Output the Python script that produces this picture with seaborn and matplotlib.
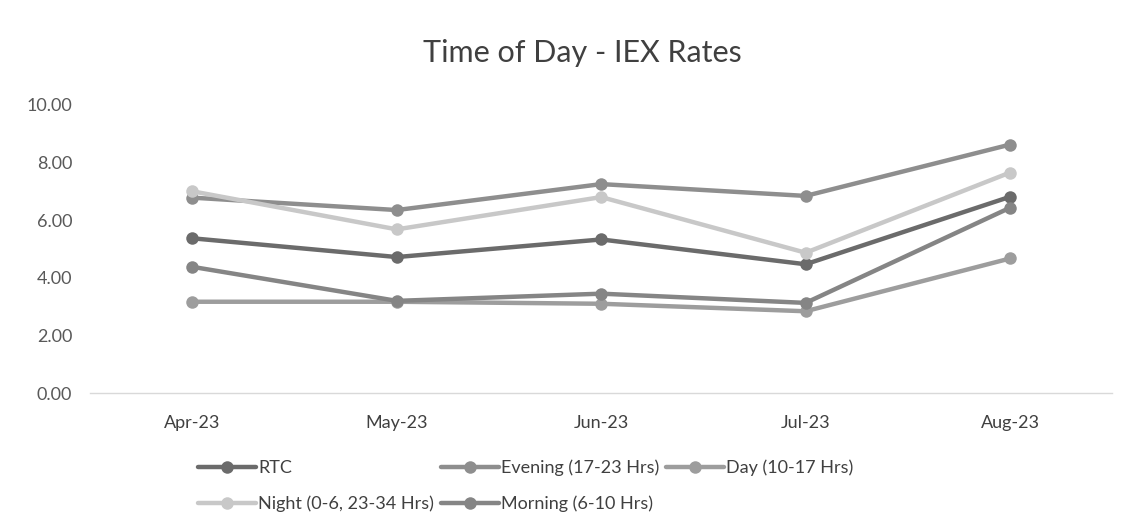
import pandas as pd
import seaborn as sns
import matplotlib.pyplot as plt

# Donnees (Rs/kWh)
months = ['Apr-23', 'May-23', 'Jun-23', 'Jul-23', 'Aug-23']
rtc = [5.37, 4.72, 5.33, 4.47, 6.81]
evening = [6.78, 6.35, 7.25, 6.84, 8.62]
day = [3.17, 3.17, 3.10, 2.84, 4.67]
night = [7.00, 5.68, 6.80, 4.87, 7.65]
morning = [4.38, 3.20, 3.45, 3.13, 6.43]

series = {
    'RTC': rtc,
    'Evening (17-23 Hrs)': evening,
    'Day (10-17 Hrs)': day,
    'Night (0-6, 23-34 Hrs)': night,
    'Morning (6-10 Hrs)': morning,
}
colors = ['#6b6b6b', '#8e8e8e', '#9d9d9d', '#c8c8c8', '#858585']

df = pd.concat(
    [pd.DataFrame({'Month': months, 'Rate': v, 'Slot': k}) for k, v in series.items()],
    ignore_index=True,
)

sns.set_theme(style="white")
plt.rcParams['font.family'] = ['Lato', 'DejaVu Sans']

fig = plt.figure(figsize=(11.28, 5.32), dpi=100)
ax = fig.add_axes([0.08, 0.261, 0.906, 0.542])

sns.lineplot(data=df, x='Month', y='Rate', hue='Slot', palette=colors,
             marker='o', markersize=9, markeredgewidth=0, linewidth=3.2,
             sort=False, ax=ax)

ax.set_ylim(0, 10)
ax.set_yticks([0, 2, 4, 6, 8, 10])
ax.set_yticklabels([f'{t:.2f}' for t in [0, 2, 4, 6, 8, 10]])
ax.set_xlim(-0.5, len(months) - 0.5)
ax.set_xlabel('')
ax.set_ylabel('')
for s in ['top', 'right', 'left']:
    ax.spines[s].set_visible(False)
ax.spines['bottom'].set_color('#d9d9d9')
ax.spines['bottom'].set_linewidth(1)
ax.tick_params(axis='y', length=0, pad=13, labelsize=13, labelcolor='#595959')
ax.tick_params(axis='x', length=0, pad=16, labelsize=13, labelcolor='#404040')

fig.text(0.516, 0.9, 'Time of Day - IEX Rates', ha='center', va='center',
         fontsize=22, color='#404040')

# Legende : ordre ligne par ligne comme Excel
h, l = ax.get_legend_handles_labels()
order = [0, 3, 1, 4, 2]
ax.legend([h[i] for i in order], [l[i] for i in order], ncol=3,
          loc='upper left', bbox_to_anchor=(0.09, -0.175), frameon=False,
          fontsize=13, handlelength=3.2, handletextpad=0.1,
          columnspacing=0.4, labelspacing=1.05, labelcolor='#404040')

plt.savefig('out.png', dpi=100)
